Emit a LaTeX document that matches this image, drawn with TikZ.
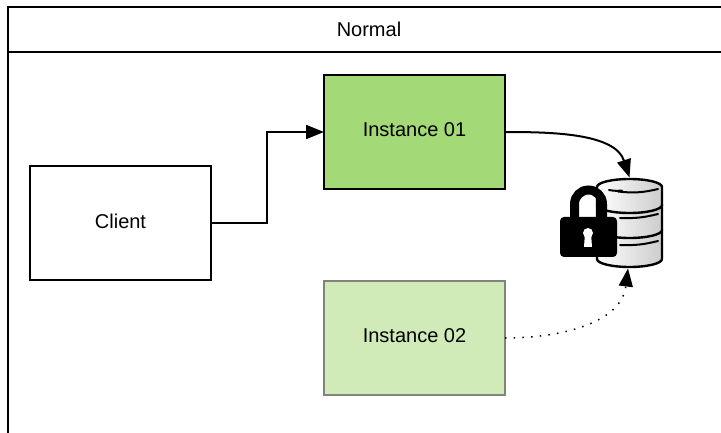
\documentclass[tikz,border=0pt]{standalone}
\usepackage{fontspec}
\setmainfont{Liberation Sans}
\usepackage{xcolor}
\definecolor{ACTIVECOLOR}{HTML}{A3D977}
\definecolor{PASSIVECOLOR}{HTML}{D1EBB8}
\definecolor{PASSIVEEDGE}{HTML}{7F857A}
\usetikzlibrary{positioning,arrows.meta}
\tikzset{
  box-style/.style = {
    rectangle, draw, line width=2pt, fill=#1,
    minimum width=181pt,
    minimum height=114pt,
    outer sep=0pt,
    text depth=4pt,
    font=\fontsize{20}{24}\selectfont
  },
  box-style/.default = white,
  frame-style/.style = {
    rectangle, draw, line width=2pt,
    minimum width=722pt,
    outer sep=0pt,
    font=\fontsize{20}{24}\selectfont
  },
  disk-style/.style = {
    draw=black, line width=2.4pt, left color=white, right color=gray!40
  },
  mark-style/.style = {
    draw=black, line width=2pt, line cap=round
  },
  every edge/.style = {
    draw, line width=2pt, -{Triangle[length=18pt,width=14pt]}
  }
}
\def\createDisk top:#1 bottom:#2;{
  \path[disk-style] (597,#1) -- (597,#2)
    arc[start angle=180,end angle=360,x radius=32.5,y radius=8]
    -- (662,#1)
    arc[start angle=0,end angle=180,x radius=32.5,y radius=8] -- cycle;
}
\begin{document}
\begin{tikzpicture}[x=1pt,y=1pt]
  \useasboundingbox (0,0) rectangle (721,-433);
  \clip (0,0) rectangle (721,-433);
  \fill[white] (0,0) rectangle (721,-433);

  \node[frame-style, minimum height=45pt, anchor=north west] (header) at (8,-7) {Normal};
  \node[frame-style, minimum height=400pt, below=0pt of header] (body) {};

  \node[box-style] (client) at (120.5,-223) {Client};
  \node[box-style=ACTIVECOLOR] (instance01) at (414.5,-132) {Instance 01};
  \node[box-style=PASSIVECOLOR, draw=PASSIVEEDGE, below=92pt of instance01] (instance02) {Instance 02};
  \node[minimum width=66pt, minimum height=91pt, inner sep=0pt, outer sep=0pt] (database) at (629.5,-223) {};

  % database
  \createDisk top:-230 bottom:-259;
  \createDisk top:-205 bottom:-230;
  \createDisk top:-187 bottom:-205;
  \draw[mark-style] (609,-190) to[bend right=8] (622,-190.5);
  \draw[mark-style] (618,-191.5) to[bend right=10] (658,-189);
  \draw[mark-style] (620,-218) to[bend right=8] (658,-214);
  \draw[mark-style] (620,-245) to[bend right=8] (658,-241);

  % lock
  \draw[line width=9pt] (574.5,-220) -- (574.5,-204)
    arc[start angle=180,end angle=0,radius=14] -- (602.5,-220);
  \fill[black, rounded corners=4pt] (560,-217) rectangle (617,-257);
  \fill[white] (588,-233) circle (5);
  \fill[white] (585,-233) -- (591,-233) -- (592,-247) -- (584,-247) -- cycle;

  \path (client.east) edge[to path={-- ++(56,0) |- (\tikztotarget)}] (instance01.west);
  \path (instance01.east) edge[out=0,in=108,looseness=0.9] (database.north);
  \path (instance02.east) edge[line width=1.5pt, dash pattern=on 1.5pt off 7.2pt, out=0, in=-97, looseness=1] ([xshift=-1.5pt]database.south);
\end{tikzpicture}
\end{document}
